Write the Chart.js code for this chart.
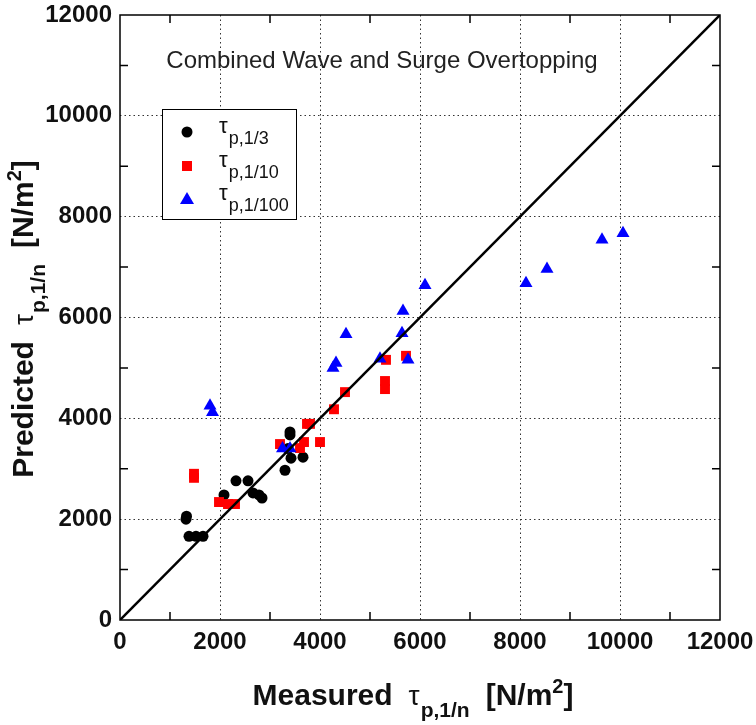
<!DOCTYPE html>
<html>
<head>
<meta charset="utf-8">
<script src="https://cdn.jsdelivr.net/npm/chart.js@4"></script>
<style>
  body { margin: 0; background: #fff; }
</style>
</head>
<body>
<canvas id="c" width="756" height="725"></canvas>
<script>
// tau p,1/3
const measured3 = [1330, 1320, 1380, 1520, 1660, 2080, 2320, 2560, 2660, 2780, 2840, 3300, 3400, 3400, 3420, 3660, 3360];
const predicted3 = [2060, 2000, 1660, 1660, 1660, 2480, 2760, 2760, 2520, 2480, 2420, 2970, 3730, 3670, 3210, 3230, 3400];
// tau p,1/10
const measured10 = [1480, 1480, 1980, 2160, 2300, 3200, 3600, 3680, 3740, 3800, 4000, 4280, 4500, 5320, 5720, 5300, 5300];
const predicted10 = [2900, 2820, 2340, 2300, 2300, 3490, 3410, 3530, 3890, 3890, 3530, 4180, 4520, 5160, 5240, 4740, 4580];
// tau p,1/100
const measured100 = [1800, 1850, 3250, 3400, 4260, 4320, 4520, 5200, 5640, 5660, 5760, 6100, 8120, 8540, 9640, 10060];
const predicted100 = [4250, 4120, 3400, 3400, 5000, 5100, 5670, 5180, 5690, 6130, 5160, 6640, 6680, 6960, 7540, 7670];
// 1:1 line
const diagonal = [0, 12000];

const tickStep = 1000;
const labelStep = 2000;
const axisMax = 12000;

const FONT = "'Liberation Sans', Arial, Helvetica, sans-serif";

function pts(xs, ys) {
  return xs.map((x, i) => ({ x: x, y: ys[i] }));
}

// draws text made of pieces (normal, subscript, superscript)
function drawRich(ctx, parts, x, y, align) {
  let total = 0;
  parts.forEach((p) => {
    ctx.font = p.font;
    p.w = ctx.measureText(p.t).width;
    total += p.w + (p.gap || 0);
  });
  let cx = align === "center" ? x - total / 2 : x;
  ctx.textAlign = "left";
  ctx.textBaseline = "alphabetic";
  parts.forEach((p) => {
    ctx.font = p.font;
    ctx.fillText(p.t, cx, y + (p.dy || 0));
    cx += p.w + (p.gap || 0);
  });
}

function titleParts(word) {
  const bold = "bold 30px " + FONT;
  return [
    { t: word, font: bold, gap: 16 },
    { t: "τ", font: "28px " + FONT, gap: 1 },
    { t: "p,1/n", font: "bold 21px " + FONT, dy: 12, gap: 16 },
    { t: "[N/m", font: bold },
    { t: "2", font: "bold 20px " + FONT, dy: -12 },
    { t: "]", font: bold },
  ];
}

const decorations = {
  id: "decorations",
  afterDraw(chart) {
    const ctx = chart.ctx;
    const a = chart.chartArea;
    const xs = chart.scales.x;
    const ys = chart.scales.y;
    ctx.save();

    // minor ticks, pointing inward
    ctx.strokeStyle = "#000";
    ctx.lineWidth = 1.5;
    ctx.beginPath();
    for (let v = tickStep; v < axisMax; v += labelStep) {
      const px = xs.getPixelForValue(v);
      ctx.moveTo(px, a.bottom);
      ctx.lineTo(px, a.bottom - 8);
      ctx.moveTo(px, a.top);
      ctx.lineTo(px, a.top + 8);
      const py = ys.getPixelForValue(v);
      ctx.moveTo(a.left, py);
      ctx.lineTo(a.left + 8, py);
      ctx.moveTo(a.right, py);
      ctx.lineTo(a.right - 8, py);
    }
    ctx.stroke();

    // frame
    ctx.lineWidth = 1.5;
    ctx.strokeRect(a.left, a.top, a.right - a.left, a.bottom - a.top);

    // title inside plot
    ctx.fillStyle = "#222";
    ctx.font = "24px " + FONT;
    ctx.textAlign = "center";
    ctx.textBaseline = "alphabetic";
    ctx.fillText("Combined Wave and Surge Overtopping", 382, 68);

    // legend
    ctx.fillStyle = "#fff";
    ctx.fillRect(162, 109, 134, 110);
    ctx.strokeStyle = "#000";
    ctx.lineWidth = 1;
    ctx.strokeRect(162.5, 109.5, 134, 110);

    const rows = [
      { sub: "p,1/3", color: "#000", shape: "circle", y: 132 },
      { sub: "p,1/10", color: "#ff0000", shape: "rect", y: 166 },
      { sub: "p,1/100", color: "#0000ff", shape: "triangle", y: 199 },
    ];
    rows.forEach((r) => {
      ctx.fillStyle = r.color;
      ctx.beginPath();
      if (r.shape === "circle") {
        ctx.arc(187, r.y, 5.5, 0, Math.PI * 2);
      } else if (r.shape === "rect") {
        ctx.rect(182, r.y - 5, 10, 10);
      } else {
        ctx.moveTo(187, r.y - 7);
        ctx.lineTo(194, r.y + 5);
        ctx.lineTo(180, r.y + 5);
        ctx.closePath();
      }
      ctx.fill();
      ctx.fillStyle = "#111";
      drawRich(ctx, [
        { t: "τ", font: "22px " + FONT, gap: 1 },
        { t: r.sub, font: "18px " + FONT, dy: 11 },
      ], 219, r.y + 1, "left");
    });

    // axis titles
    ctx.fillStyle = "#111";
    drawRich(ctx, titleParts("Measured"), 413, 705, "center");

    ctx.translate(33, 319);
    ctx.rotate(-Math.PI / 2);
    drawRich(ctx, titleParts("Predicted"), 0, 0, "center");

    ctx.restore();
  },
};

function axis(fitKey, fitVal) {
  return {
    type: "linear",
    min: 0,
    max: axisMax,
    afterFit: (s) => {
      s[fitKey] = fitVal;
      s.paddingTop = 0;
      s.paddingBottom = 0;
      s.paddingLeft = 0;
      s.paddingRight = 0;
    },
    ticks: {
      stepSize: tickStep,
      autoSkip: false,
      maxRotation: 0,
      color: "#111",
      padding: 8,
      font: { family: FONT, size: 24, weight: "bold" },
      callback: (v) => (v % labelStep === 0 ? String(v) : ""),
    },
    grid: {
      drawTicks: false,
      lineWidth: 1,
      color: (c) => {
        const v = c.tick ? c.tick.value : null;
        return v !== null && v % labelStep === 0 && v > 0 && v < axisMax ? "#333" : "rgba(0,0,0,0)";
      },
    },
    border: { display: false, dash: [1.5, 3] },
  };
}

new Chart(document.getElementById("c"), {
  type: "scatter",
  data: {
    datasets: [
      {
        label: "1:1",
        type: "line",
        data: pts(diagonal, diagonal),
        borderColor: "#000",
        borderWidth: 2.5,
        pointRadius: 0,
        fill: false,
        order: 0,
      },
      {
        label: "τp,1/100",
        data: pts(measured100, predicted100),
        pointStyle: "triangle",
        pointRadius: 7.5,
        backgroundColor: "#0000ff",
        borderColor: "#0000ff",
        borderWidth: 0,
        order: 1,
      },
      {
        label: "τp,1/10",
        data: pts(measured10, predicted10),
        pointStyle: "rect",
        pointRadius: 7,
        backgroundColor: "#ff0000",
        borderColor: "#ff0000",
        borderWidth: 0,
        order: 2,
      },
      {
        label: "τp,1/3",
        data: pts(measured3, predicted3),
        pointStyle: "circle",
        pointRadius: 5.5,
        backgroundColor: "#000",
        borderColor: "#000",
        borderWidth: 0,
        order: 3,
      },
    ],
  },
  options: {
    responsive: false,
    animation: false,
    layout: { padding: { left: 0, top: 15, right: 36, bottom: 0 } },
    plugins: {
      legend: { display: false },
      tooltip: { enabled: false },
    },
    scales: {
      x: axis("height", 105),
      y: axis("width", 120),
    },
  },
  plugins: [decorations],
});
</script>
</body>
</html>
